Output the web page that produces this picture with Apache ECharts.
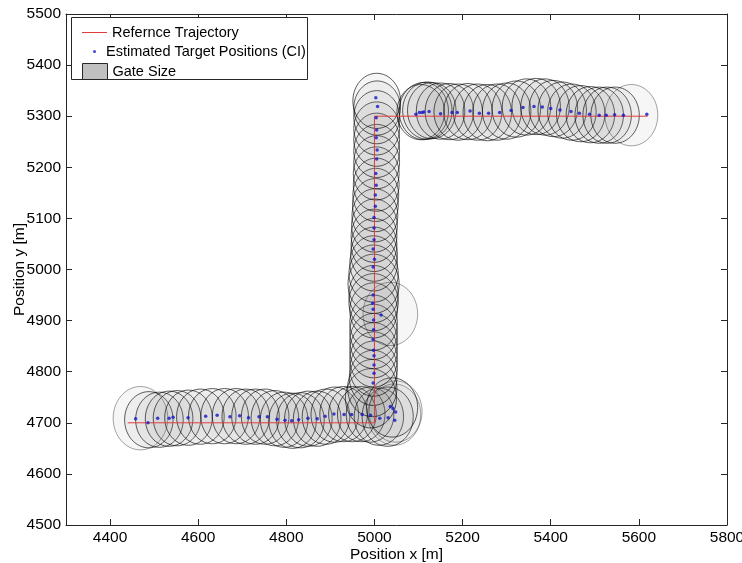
<!DOCTYPE html>
<html>
<head>
<meta charset="utf-8">
<script src="https://cdn.jsdelivr.net/npm/echarts@6/dist/echarts.min.js"></script>
<style>
  html, body { margin: 0; padding: 0; background: #fff; }
  #chart { width: 742px; height: 563px; }
</style>
</head>
<body>
<div id="chart"></div>
<script>
// reference trajectory (corner points)
const trajX = [4440, 5000, 5000, 5620];
const trajY = [4700, 4700, 5300, 5300];

// estimated target positions
const estX = [4458, 4486, 4508, 4534, 4543, 4577, 4617, 4643, 4672, 4694, 4714, 4738, 4757, 4779, 4797, 4812,
  4828, 4849, 4870, 4888, 4908, 4931, 4948, 4972, 4991, 5012, 5031, 5046, 5048, 5042, 5036,
  4997, 4999, 4999, 4999, 4998, 4997, 4998, 4998, 5015, 4997, 4996, 4997, 4997, 5000, 4997, 4999,
  4999, 4999, 5002, 5002, 5004, 5003, 5005, 5006, 5004, 5005, 5004, 5007, 5003,
  5094, 5102, 5108, 5112, 5124, 5150, 5176, 5188, 5217, 5238, 5259, 5284, 5310, 5337, 5362, 5381,
  5400, 5421, 5446, 5465, 5488, 5510, 5526, 5545, 5565, 5618];
const estY = [4708, 4700, 4709, 4709, 4711, 4710, 4713, 4715, 4712, 4714, 4710, 4712, 4712, 4707, 4705, 4704,
  4706, 4709, 4708, 4713, 4717, 4716, 4716, 4716, 4715, 4709, 4710, 4705, 4721, 4728, 4732,
  4778, 4797, 4813, 4831, 4842, 4863, 4882, 4901, 4911, 4922, 4934, 4950, 5005, 5020, 5040, 5058,
  5081, 5102, 5124, 5146, 5165, 5188, 5216, 5234, 5258, 5273, 5297, 5319, 5336,
  5304, 5307, 5307, 5308, 5309, 5305, 5307, 5307, 5310, 5306, 5306, 5307, 5311, 5317, 5319, 5318,
  5315, 5312, 5309, 5306, 5304, 5302, 5302, 5303, 5302, 5304];

// gate centres and radii [m]
const gateX = [4469, 4488, 4512, 4534, 4552, 4578, 4605, 4632, 4660, 4686, 4708, 4730, 4752, 4774, 4795, 4814,
  4832, 4850, 4870, 4890, 4910, 4930, 4950, 4970, 4990, 5010, 5030, 5045, 5048, 5040,
  4992, 4995, 4997, 4998, 4998, 4998, 4998, 4998, 4998, 5036, 4998, 4998, 4998, 4998, 4998, 4998,
  4999, 4999, 4999, 5000, 5001, 5002, 5003, 5004, 5004, 5005, 5005, 5005, 5005, 5005, 5006, 5005,
  5105, 5112, 5120, 5130, 5150, 5170, 5190, 5212, 5234, 5256, 5278, 5300, 5322, 5345, 5367, 5387,
  5406, 5426, 5448, 5468, 5490, 5510, 5528, 5546, 5583];
const gateY = [4709, 4706, 4706, 4708, 4709, 4710, 4712, 4713, 4713, 4713, 4712, 4712, 4712, 4709, 4706, 4704,
  4705, 4708, 4708, 4712, 4716, 4717, 4717, 4717, 4716, 4712, 4712, 4716, 4722, 4730,
  4748, 4768, 4788, 4806, 4824, 4842, 4860, 4878, 4896, 4913, 4920, 4936, 4952, 4972, 4992, 5012,
  5030, 5048, 5066, 5086, 5106, 5126, 5146, 5166, 5188, 5210, 5232, 5254, 5276, 5298, 5316, 5330,
  5308, 5310, 5311, 5311, 5310, 5309, 5308, 5309, 5308, 5307, 5308, 5310, 5314, 5318, 5319, 5318,
  5315, 5312, 5308, 5305, 5303, 5302, 5302, 5302, 5302];
const gateR = [62, 55, 54, 54, 54, 54, 54, 54, 54, 54, 54, 54, 54, 54, 54, 54,
  54, 54, 54, 54, 54, 54, 54, 54, 54, 56, 58, 60, 60, 58,
  58, 56, 54, 54, 54, 54, 54, 54, 54, 62, 54, 56, 56, 58, 56, 54,
  53, 52, 52, 52, 52, 52, 52, 52, 52, 52, 52, 52, 52, 52, 53, 54,
  54, 56, 56, 55, 55, 55, 55, 55, 55, 55, 55, 55, 55, 55, 55, 55,
  55, 55, 55, 55, 55, 55, 55, 55, 60];

const xTicks = [4400, 4600, 4800, 5000, 5200, 5400, 5600, 5800];
const yTicks = [4500, 4600, 4700, 4800, 4900, 5000, 5100, 5200, 5300, 5400, 5500];

const chart = echarts.init(document.getElementById('chart'));

const FONT = 'Liberation Sans, Arial, sans-serif';
const frame = { show: true, lineStyle: { color: '#262626', width: 1 } };
const plain = v => String(v);

function axisX(pos) {
  return {
    type: 'value', position: pos, min: 4300, max: 5800,
    axisLine: frame,
    axisTick: { show: true, inside: true, length: 6, customValues: xTicks, lineStyle: { color: '#262626' } },
    axisLabel: { show: pos === 'bottom', customValues: xTicks, formatter: plain, margin: 5, color: '#000', fontSize: 15.5, fontFamily: FONT },
    splitLine: { show: false }
  };
}
function axisY(pos) {
  return {
    type: 'value', position: pos, min: 4500, max: 5500,
    axisLine: frame,
    axisTick: { show: true, inside: true, length: 6, customValues: yTicks, lineStyle: { color: '#262626' } },
    axisLabel: { show: pos === 'left', customValues: yTicks, formatter: plain, margin: 5, color: '#000', fontSize: 15.5, fontFamily: FONT },
    splitLine: { show: false }
  };
}

const xb = axisX('bottom');
xb.name = 'Position x [m]';
xb.nameLocation = 'middle';
xb.nameGap = 22;
xb.nameMoveOverlap = false;
xb.nameTextStyle = { color: '#000', fontSize: 15.5, fontFamily: FONT };
const yl = axisY('left');
yl.name = 'Position y [m]';
yl.nameLocation = 'middle';
yl.nameGap = 38;
yl.nameMoveOverlap = false;
yl.nameTextStyle = { color: '#000', fontSize: 15.5, fontFamily: FONT };

const legendText = { color: '#000', fontSize: 14.5, fontFamily: FONT };

const option = {
  backgroundColor: '#fff',
  animation: false,
  grid: { left: 66, right: 15, top: 14, bottom: 38, outerBoundsMode: 'none', containLabel: false },
  xAxis: [xb, axisX('top')],
  yAxis: [yl, axisY('right')],
  graphic: [{
    type: 'rect', left: 71, top: 17, z: 5,
    shape: { width: 236, height: 62 },
    style: { fill: '#fff', stroke: '#262626', lineWidth: 1 }
  }],
  legend: [
    { data: [{ name: 'Refernce Trajectory', icon: 'path://M0,0L25,0L25,1L0,1Z' }], left: 77, top: 20, itemWidth: 25, itemHeight: 1, textStyle: legendText, selectedMode: false, z: 10 },
    { data: [{ name: 'Estimated Target Positions (CI)', icon: 'circle' }], left: 88, top: 39, itemWidth: 3, itemHeight: 3,
      textStyle: Object.assign({ padding: [0, 0, 0, 5] }, legendText), selectedMode: false, z: 10 },
    { data: [{ name: 'Gate Size', icon: 'rect', itemStyle: { color: '#c0c0c0', borderColor: '#262626', borderWidth: 1 } }],
      left: 77, top: 58, itemWidth: 25, itemHeight: 16, textStyle: legendText, selectedMode: false, z: 10 }
  ],
  series: [
    {
      name: 'Gate Size',
      type: 'custom',
      clip: true,
      z: 1,
      data: gateX.map((x, i) => [x, gateY[i], gateR[i]]),
      renderItem: function (params, api) {
        const c = api.coord([api.value(0), api.value(1)]);
        const s = api.size([api.value(2), api.value(2)]);
        const big = api.value(2) >= 60;
        return {
          type: 'ellipse',
          shape: { cx: c[0], cy: c[1], rx: s[0], ry: s[1] },
          style: {
            fill: 'rgba(100,100,100,0.06)',
            stroke: big ? 'rgba(0,0,0,0.4)' : 'rgba(0,0,0,0.7)',
            lineWidth: 0.9
          }
        };
      }
    },
    {
      name: 'Refernce Trajectory',
      type: 'line',
      z: 3,
      symbol: 'none',
      data: trajX.map((x, i) => [x, trajY[i]]),
      lineStyle: { color: '#e03c3c', width: 1 },
      itemStyle: { color: '#e03c3c' }
    },
    {
      name: 'Estimated Target Positions (CI)',
      type: 'scatter',
      z: 4,
      symbol: 'circle',
      symbolSize: 3.5,
      data: estX.map((x, i) => [x, estY[i]]),
      itemStyle: { color: '#1515c8' }
    }
  ]
};

chart.setOption(option);
</script>
</body>
</html>
